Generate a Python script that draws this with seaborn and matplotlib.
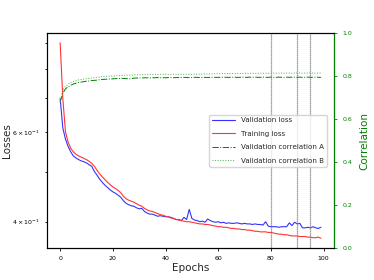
import numpy as np
import pandas as pd
import matplotlib
matplotlib.use("Agg")
import matplotlib.pyplot as plt
import seaborn as sns

# epochs 0..99
epochs = list(range(100))

val_loss = [0.700, 0.612, 0.582, 0.563, 0.549, 0.539, 0.534, 0.530, 0.527, 0.525,
            0.522, 0.518, 0.514, 0.502, 0.494, 0.485, 0.478, 0.472, 0.467, 0.462,
            0.458, 0.455, 0.451, 0.447, 0.440, 0.435, 0.432, 0.430, 0.429, 0.426,
            0.424, 0.425, 0.419, 0.416, 0.414, 0.414, 0.412, 0.410, 0.411, 0.410,
            0.409, 0.409, 0.408, 0.406, 0.404, 0.404, 0.402, 0.408, 0.404, 0.423,
            0.406, 0.403, 0.402, 0.400, 0.401, 0.399, 0.405, 0.402, 0.400, 0.399,
            0.400, 0.398, 0.399, 0.397, 0.398, 0.397, 0.397, 0.398, 0.397, 0.396,
            0.397, 0.396, 0.396, 0.395, 0.396, 0.395, 0.395, 0.394, 0.400, 0.392,
            0.391, 0.391, 0.391, 0.390, 0.391, 0.391, 0.391, 0.398, 0.393, 0.399,
            0.396, 0.397, 0.389, 0.389, 0.390, 0.389, 0.391, 0.389, 0.388, 0.390]

train_loss = [0.900, 0.700, 0.602, 0.574, 0.558, 0.549, 0.543, 0.539, 0.536, 0.533,
              0.530, 0.526, 0.521, 0.514, 0.505, 0.497, 0.490, 0.484, 0.478, 0.473,
              0.468, 0.465, 0.461, 0.456, 0.449, 0.444, 0.441, 0.439, 0.437, 0.434,
              0.431, 0.429, 0.425, 0.422, 0.420, 0.419, 0.417, 0.415, 0.413, 0.412,
              0.410, 0.409, 0.407, 0.406, 0.404, 0.403, 0.402, 0.401, 0.400, 0.400,
              0.399, 0.398, 0.397, 0.396, 0.396, 0.395, 0.395, 0.394, 0.393, 0.392,
              0.391, 0.391, 0.390, 0.390, 0.389, 0.388, 0.388, 0.387, 0.387, 0.386,
              0.386, 0.385, 0.385, 0.384, 0.383, 0.383, 0.382, 0.382, 0.382, 0.381,
              0.381, 0.380, 0.379, 0.378, 0.378, 0.377, 0.377, 0.376, 0.375, 0.375,
              0.375, 0.374, 0.374, 0.374, 0.373, 0.373, 0.372, 0.372, 0.373, 0.371]

corr_a = [0.680, 0.720, 0.740, 0.750, 0.757, 0.763, 0.767, 0.770, 0.772, 0.774,
          0.776, 0.777, 0.779, 0.780, 0.781, 0.783, 0.784, 0.785, 0.786, 0.786,
          0.787, 0.788, 0.788, 0.789, 0.789, 0.788, 0.787, 0.788, 0.790, 0.791,
          0.791, 0.791, 0.792, 0.792, 0.791, 0.792, 0.792, 0.793, 0.792, 0.792,
          0.792, 0.793, 0.793, 0.792, 0.793, 0.793, 0.793, 0.794, 0.793, 0.793,
          0.793, 0.794, 0.794, 0.793, 0.794, 0.794, 0.793, 0.794, 0.794, 0.794,
          0.794, 0.794, 0.795, 0.794, 0.794, 0.794, 0.795, 0.794, 0.794, 0.795,
          0.794, 0.794, 0.795, 0.794, 0.795, 0.794, 0.794, 0.795, 0.794, 0.794,
          0.795, 0.794, 0.794, 0.795, 0.794, 0.794, 0.795, 0.794, 0.795, 0.794,
          0.794, 0.795, 0.794, 0.794, 0.795, 0.794, 0.794, 0.795, 0.794, 0.794]

corr_b = [0.680, 0.735, 0.752, 0.762, 0.770, 0.775, 0.779, 0.782, 0.784, 0.786,
          0.788, 0.789, 0.791, 0.793, 0.794, 0.796, 0.797, 0.798, 0.799, 0.800,
          0.800, 0.801, 0.802, 0.802, 0.803, 0.804, 0.804, 0.805, 0.805, 0.806,
          0.806, 0.806, 0.807, 0.806, 0.807, 0.807, 0.808, 0.807, 0.808, 0.808,
          0.808, 0.807, 0.808, 0.808, 0.808, 0.807, 0.808, 0.808, 0.808, 0.808,
          0.808, 0.809, 0.808, 0.809, 0.809, 0.810, 0.809, 0.810, 0.810, 0.811,
          0.811, 0.811, 0.811, 0.812, 0.811, 0.812, 0.812, 0.812, 0.812, 0.812,
          0.813, 0.812, 0.813, 0.813, 0.812, 0.813, 0.813, 0.813, 0.813, 0.813,
          0.813, 0.814, 0.813, 0.813, 0.814, 0.813, 0.814, 0.814, 0.813, 0.814,
          0.814, 0.814, 0.813, 0.814, 0.814, 0.814, 0.814, 0.813, 0.814, 0.814]

marked_epochs = [80, 90, 95]

df = pd.DataFrame({"epoch": epochs, "val_loss": val_loss, "train_loss": train_loss,
                   "corr_a": corr_a, "corr_b": corr_b})

sns.set_style("ticks", {"axes.edgecolor": "black", "xtick.color": "black",
                        "ytick.color": "black"})
plt.rcParams["font.family"] = ["DejaVu Sans"]

fig, ax = plt.subplots(figsize=(3.74, 2.8), dpi=100)
fig.subplots_adjust(left=0.126, right=0.893, bottom=0.114, top=0.882)

sns.lineplot(data=df, x="epoch", y="val_loss", ax=ax, color="#3333ff", lw=0.8,
             label="Validation loss")
sns.lineplot(data=df, x="epoch", y="train_loss", ax=ax, color="#ff3333", lw=0.8,
             label="Training loss")
ax.set_yscale("log")
for e in marked_epochs:
    ax.axvline(e, color="0.5", ls=(0, (1, 0.6)), lw=0.9)
ax.set_xlabel("Epochs", fontsize=7.5, labelpad=1)
ax.set_ylabel("Losses", fontsize=7.5)
ax.yaxis.set_label_coords(-0.122, 0.5)
ax.tick_params(axis="both", which="both", labelsize=4.5, length=2.5, width=0.6)
ax.tick_params(axis="y", which="minor", length=1.8)
ax.set_xticks([0, 20, 40, 60, 80, 100])
ax.get_legend().remove()

ax2 = ax.twinx()
sns.lineplot(data=df, x="epoch", y="corr_a", ax=ax2, color="green", lw=0.7,
             ls="-.", label="Validation correlation A")
sns.lineplot(data=df, x="epoch", y="corr_b", ax=ax2, color="#4caf50", lw=0.7,
             ls=":", label="Validation correlation B")
ax2.set_ylim(0, 1.0)
ax2.set_ylabel("Correlation", fontsize=7.5, color="green", labelpad=5)
ax2.tick_params(axis="y", colors="green", labelsize=4.5, length=2.5, width=0.6)
ax2.spines["right"].set_color("green")
ax2.get_legend().remove()

h1, l1 = ax.get_legend_handles_labels()
h2, l2 = ax2.get_legend_handles_labels()
ax2.legend(h1 + h2, l1 + l2, loc="center right", fontsize=5.1, labelspacing=1.05,
           handlelength=3.3, borderaxespad=1.0)

fig.savefig("out.png", dpi=100)
